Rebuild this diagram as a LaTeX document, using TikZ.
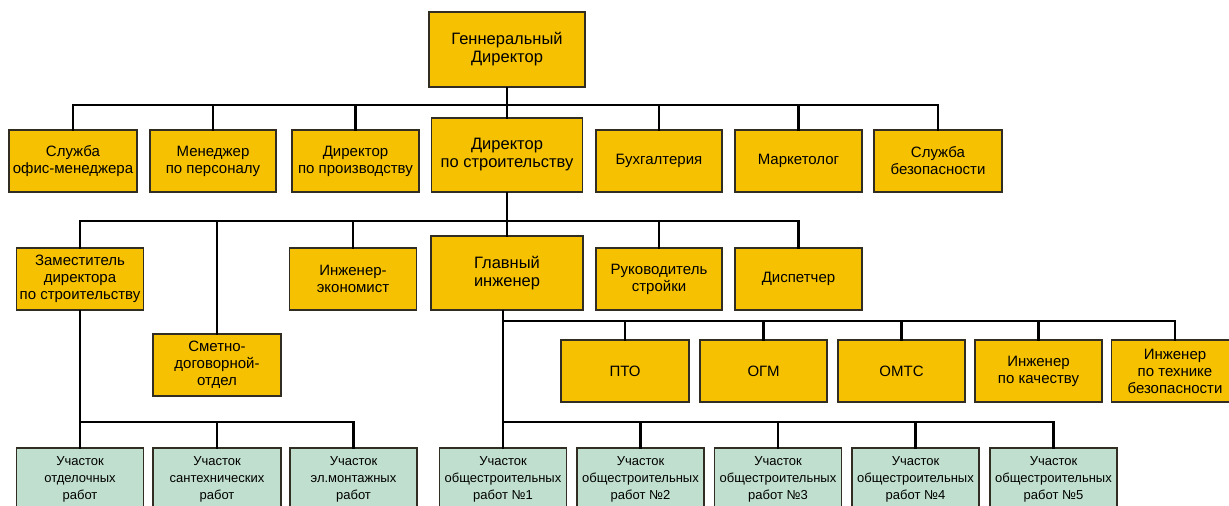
\documentclass[tikz,border=0pt]{standalone}
\usepackage{fontspec}
\setmainfont{Liberation Sans}
\definecolor{yel}{RGB}{245,193,0}
\definecolor{grn}{RGB}{192,223,206}
\definecolor{bord}{RGB}{50,45,35}
\begin{document}
\begin{tikzpicture}[x=1pt,y=-1pt,
  box/.style={draw=bord,line width=1.6pt,fill=yel,align=center,inner sep=0pt,
    minimum width=127pt,minimum height=62pt,
    font=\fontsize{15}{17}\selectfont},
  bigbox/.style={box,minimum width=152pt,minimum height=74pt,
    font=\fontsize{16.5}{18}\selectfont},
  gbox/.style={box,fill=grn,font=\fontsize{13}{17}\selectfont},
  conn/.style={draw=black,line width=2.6pt,line cap=rect}]
\useasboundingbox (0,0) rectangle (1229,506);
\clip (0,0) rectangle (1229,506);
\fill[white] (0,0) rectangle (1229,506);

% bus levels
\coordinate (b1) at (0,105);
\coordinate (b2) at (0,221);
\coordinate (b3) at (0,422);
\coordinate (b5) at (0,321);

% connectors first (behind boxes)
\coordinate (gdS) at (507,87);
\coordinate (s1N) at (72,130);
\coordinate (s2N) at (215,130);
\coordinate (s3N) at (356,130);
\coordinate (dsN) at (507,118);
\coordinate (bN) at (659,130);
\coordinate (mN) at (798,130);
\coordinate (sbN) at (937,130);

% Row 0
\node[bigbox,minimum width=156pt,minimum height=75pt] (gd) at (507,49.5) {Геннеральный\\Директор};

% Row 1
\node[box,minimum width=128pt] (s1) at (73,161) {Служба\\офис-менеджера};
\node[box,minimum width=126pt] (s2) at (213,161) {Менеджер\\по персоналу};
\node[box] (s3) at (355.5,161) {Директор\\по производству};
\node[bigbox,minimum width=151pt] (ds) at (507,155) {Директор\\по строительству};
\node[box,minimum width=126pt] (bu) at (659,161) {Бухгалтерия};
\node[box] (mk) at (798.5,161) {Маркетолог};
\node[box,minimum width=128pt] (sb) at (938,161) {Служба\\безопасности};

% Row 2
\node[box] (zam) at (80,279) {Заместитель\\директора\\по строительству};
\node[box] (ie) at (353,279) {Инженер-\\экономист};
\node[bigbox] (gi) at (507,273) {Главный\\инженер};
\node[box,minimum width=126pt] (rs) at (659,279) {Руководитель\\стройки};
\node[box] (dp) at (798.5,279) {Диспетчер};
\node[box,minimum width=128pt] (sm) at (217,365) {Сметно-\\договорной-\\отдел};

% Row 3
\node[box,minimum width=128pt] (pto) at (625,371) {ПТО};
\node[box] (ogm) at (763.5,371) {ОГМ};
\node[box] (omts) at (901.5,371) {ОМТС};
\node[box] (ik) at (1038.5,371) {Инженер\\по качеству};
\node[box] (itb) at (1175,371) {Инженер\\по технике\\безопасности};

% Bottom (green)
\node[gbox] (u1) at (80,479) {Участок\\отделочных\\работ};
\node[gbox,minimum width=128pt] (u2) at (217,479) {Участок\\сантехнических\\работ};
\node[gbox] (u3) at (353.5,479) {Участок\\эл.монтажных\\работ};
\node[gbox] (g1) at (503,479) {Участок\\общестроительных\\работ №1};
\node[gbox] (g2) at (640.5,479) {Участок\\общестроительных\\работ №2};
\node[gbox] (g3) at (778,479) {Участок\\общестроительных\\работ №3};
\node[gbox] (g4) at (915.5,479) {Участок\\общестроительных\\работ №4};
\node[gbox] (g5) at (1053.5,479) {Участок\\общестроительных\\работ №5};

% connectors (drawn on background layer effect: draw then redraw boxes not needed,
% since lines end at box borders)
\begin{scope}[conn]
% level 1
\draw (gd.south) -- (ds.north);
\draw (s1.north) -- (s1.north |- b1) -- (sb.north |- b1) -- (sb.north);
\draw (s2.north) -- (s2.north |- b1);
\draw (s3.north) -- (s3.north |- b1);
\draw (bu.north) -- (bu.north |- b1);
\draw (mk.north) -- (mk.north |- b1);
% level 2
\draw (ds.south) -- (gi.north);
\draw (zam.north) -- (zam.north |- b2) -- (dp.north |- b2) -- (dp.north);
\draw (sm.north) -- (sm.north |- b2);
\draw (ie.north) -- (ie.north |- b2);
\draw (rs.north) -- (rs.north |- b2);
% deputy branch
\draw (zam.south) -- (u1.north);
\draw (u1.north |- b3) -- (u3.north |- b3) -- (u3.north);
\draw (u2.north) -- (u2.north |- b3);
% chief engineer branch
\draw (g1.north |- gi.south) -- (g1.north);
\draw (g1.north |- b5) -- (itb.north |- b5) -- (itb.north);
\draw (pto.north) -- (pto.north |- b5);
\draw (ogm.north) -- (ogm.north |- b5);
\draw (omts.north) -- (omts.north |- b5);
\draw (ik.north) -- (ik.north |- b5);
\draw (g1.north |- b3) -- (g5.north |- b3) -- (g5.north);
\draw (g2.north) -- (g2.north |- b3);
\draw (g3.north) -- (g3.north |- b3);
\draw (g4.north) -- (g4.north |- b3);
\end{scope}
\end{tikzpicture}
\end{document}
